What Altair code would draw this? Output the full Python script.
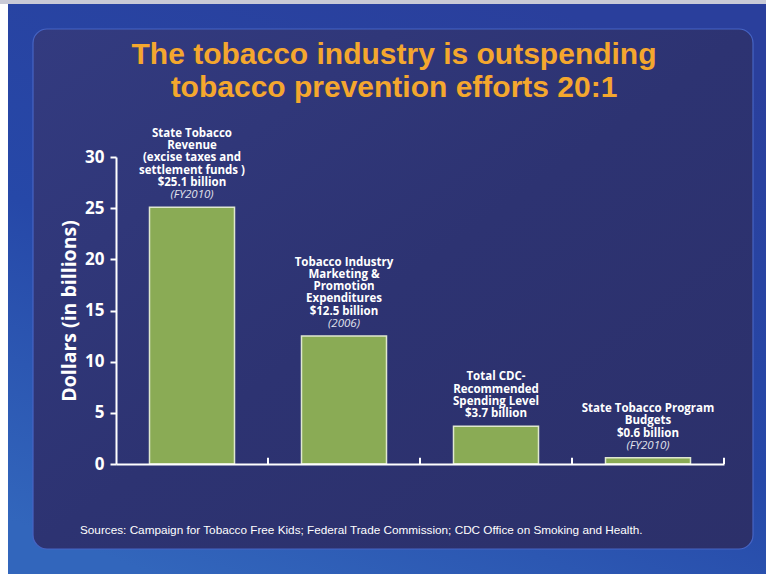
import altair as alt
import pandas as pd

# ---- data ----
categories = ["State Tobacco Revenue", "Tobacco Industry Marketing",
              "CDC-Recommended Spending", "State Tobacco Program Budgets"]
values = [25.1, 12.5, 3.7, 0.6]
label_lines = [
    ["State Tobacco", "Revenue", "(excise taxes and", "settlement funds )", "$25.1 billion"],
    ["Tobacco Industry", "Marketing &", "Promotion", "Expenditures", "$12.5 billion"],
    ["Total CDC-", "Recommended", "Spending Level", "$3.7 billion"],
    ["State Tobacco Program", "Budgets", "$0.6 billion"],
]
year_notes = ["(FY2010)", "(2006)", "", "(FY2010)"]
y_ticks = [0, 5, 10, 15, 20, 25, 30]
title_lines = ["The tobacco industry is outspending", "tobacco prevention efforts 20:1"]
source_text = "Sources: Campaign for Tobacco Free Kids; Federal Trade Commission; CDC Office on Smoking and Health."
y_title = "Dollars (in billions)"

# multi-line text is drawn downward from its anchor: pad every block (with a
# zero-width space, so the blank lines keep their height) to the same number of
# lines so that the last line of each sits just above its bar
BLANK = "\u200b"
blocks = [l + ([BLANK] if n else []) for l, n in zip(label_lines, year_notes)]
N_LINES = max(len(b) for b in blocks)
blocks = [[BLANK] * (N_LINES - len(b)) + b for b in blocks]

df = pd.DataFrame({"cat": categories, "value": values, "label": blocks, "note": year_notes})
one = pd.DataFrame({"k": [0]})

W, H = 608, 307
LH = 12.3
x_axis = alt.Axis(labels=False, ticks=False, title=None, grid=False, zindex=2,
                  domainColor="white", domainWidth=2)
y_axis = alt.Axis(values=y_ticks, title=y_title, grid=False, zindex=2)
x_scale = alt.Scale(paddingInner=0, paddingOuter=0)
y_scale = alt.Scale(domain=[0, 30], nice=False)


def X(**kw):
    return alt.X("cat:N", sort=None, scale=x_scale, axis=x_axis, **kw)


def Y():
    return alt.Y("value:Q", scale=y_scale, axis=y_axis)


# slide backdrop (decoration)
backdrop = alt.Chart(one).mark_rect(
    fill=alt.Gradient(gradient="linear", x1=0.7, y1=0, x2=0.2, y2=1,
                      stops=[alt.GradientStop(color="#2a3f9c", offset=0),
                             alt.GradientStop(color="#2648a8", offset=0.55),
                             alt.GradientStop(color="#3266bc", offset=1)])
).encode(x=alt.value(-116), x2=alt.value(650), y=alt.value(-157), y2=alt.value(417))

edge_left = alt.Chart(one).mark_rect(fill="white").encode(
    x=alt.value(-116), x2=alt.value(-108), y=alt.value(-157), y2=alt.value(417))
edge_top = alt.Chart(one).mark_rect(fill="#c9cad6").encode(
    x=alt.value(-116), x2=alt.value(650), y=alt.value(-157), y2=alt.value(-153))

panel = alt.Chart(one).mark_rect(
    cornerRadius=14, stroke="#4664c4", strokeWidth=1.2,
    fill=alt.Gradient(gradient="linear", x1=0, y1=0, x2=1, y2=1,
                      stops=[alt.GradientStop(color="#333b80", offset=0),
                             alt.GradientStop(color="#2d3372", offset=0.5),
                             alt.GradientStop(color="#2c306a", offset=1)])
).encode(x=alt.value(-83), x2=alt.value(637), y=alt.value(-128), y2=alt.value(392))

bars = alt.Chart(df).mark_bar(size=85, color="#8aab55", stroke="#dfe8cf",
                              strokeWidth=1.5).encode(x=X(), y=Y())

ticks = alt.Chart(df).mark_rule(color="white", strokeWidth=2).encode(
    x=X(bandPosition=1), y=alt.datum(0), y2=alt.datum(0.6))

labels = alt.Chart(df).mark_text(
    font="Open Sans", fontWeight="bold", fontSize=11.5, color="white",
    align="center", baseline="bottom", lineHeight=LH, dy=-7 - (N_LINES - 1) * LH
).encode(x=X(), y=Y(), text="label")

notes = alt.Chart(df).mark_text(
    font="Open Sans", fontStyle="italic", fontSize=11.5, color="#e2e4ee",
    align="center", baseline="bottom", dy=-7
).encode(x=X(), y=Y(), text="note:N")

title = alt.Chart(one).mark_text(
    font="Liberation Sans", fontWeight="bold", fontSize=30, color="#f4a72e",
    align="center", baseline="middle", lineHeight=33
).encode(x=alt.value(278), y=alt.value(-102), text=alt.value(title_lines))

source = alt.Chart(one).mark_text(
    font="Liberation Sans", fontSize=11.75, color="white", align="left", baseline="middle"
).encode(x=alt.value(-36), y=alt.value(373), text=alt.value(source_text))

chart = alt.layer(backdrop, edge_left, edge_top, panel, bars, ticks, labels, notes,
                  title, source).properties(
    width=W, height=H,
    autosize=alt.AutoSizeParams(type="none"),
    padding={"left": 116, "top": 157, "right": 42, "bottom": 110},
    background="#2749a6",
).configure_view(stroke=None).configure_axis(
    domainColor="white", domainWidth=2
).configure_axisY(
    tickColor="white", tickWidth=2, tickSize=6,
    labelColor="white", labelFont="Open Sans", labelFontWeight="bold", labelFontSize=17,
    labelPadding=6, titleColor="white", titleFont="Open Sans", titleFontWeight="bold",
    titleFontSize=19.5, titlePadding=5
)

chart.save("out.html", embed_options={"renderer": "svg", "actions": False})
